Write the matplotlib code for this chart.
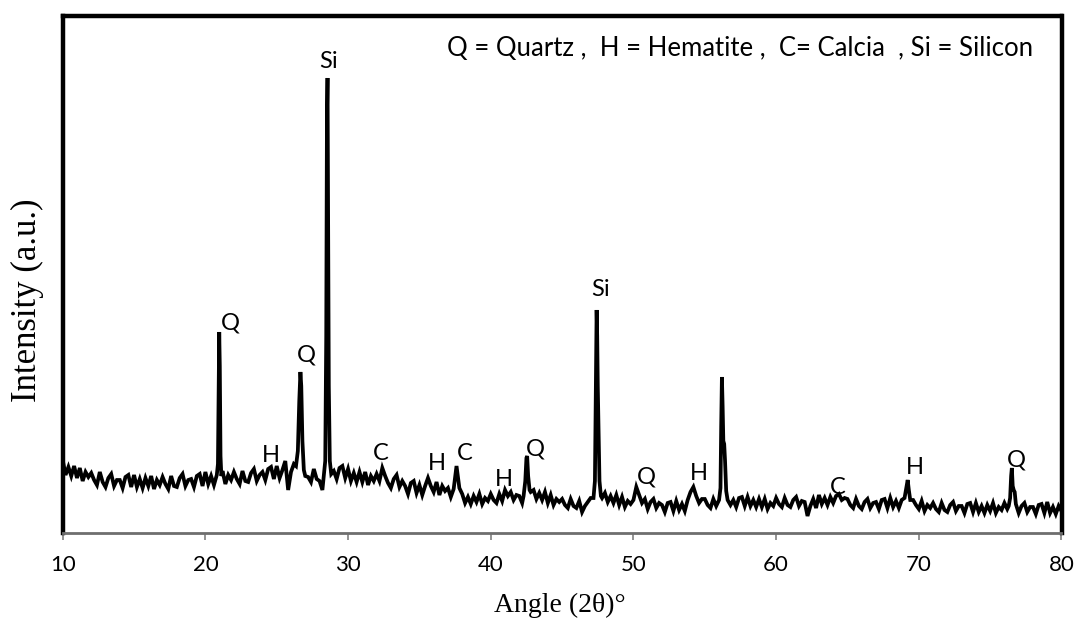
import numpy as np
import matplotlib
matplotlib.use("Agg")
import matplotlib.pyplot as plt

# ---- data -------------------------------------------------------------
scan_start = 10.0
scan_step = 0.2
# background scan (intensity, a.u.) read every 0.2 deg from 10 to 80
baseline = [
    76, 61, 69, 60, 70,  58, 68, 55, 64, 59,  63, 56, 51, 64, 54,  49, 58, 62, 50, 56,
    56, 48, 59, 61, 49,  61, 49, 57, 48, 58,  50, 60, 47, 56, 51,  59, 52, 47, 60, 50,
    49, 58, 62, 50, 56,  57, 49, 60, 62, 50,  64, 52, 60, 51, 61,  60, 65, 52, 61, 56,
    64, 57, 52, 65, 55,  54, 63, 67, 55, 61,  64, 56, 67, 69, 57,  70, 58, 66, 75, 46,
    64, 72, 70, 66, 62,  60, 59, 54, 67, 57,  55, 46, 60, 62, 60,  65, 57, 68, 70, 58,
    67, 55, 63, 54, 64,  54, 64, 51, 60, 55,  62, 55, 68, 60, 53,  48, 57, 61, 49, 55,
    50, 42, 53, 55, 43,  51, 41, 50, 58, 50,  44, 54, 41, 50, 45,  48, 39, 47, 70, 48,
    42, 33, 39, 32, 40,  34, 42, 32, 38, 35,  42, 36, 33, 42, 35,  46, 40, 44, 36, 41,
    40, 33, 42, 40, 44,  46, 37, 43, 36, 44,  33, 41, 31, 37, 34,  37, 31, 28, 37, 30,
    28, 35, 24, 30, 34,  38, 40, 40, 40, 38,  43, 34, 40, 33, 41,  31, 39, 29, 35, 32,
    36, 49, 41, 33, 37,  27, 34, 37, 28, 33,  31, 24, 33, 34, 25,  35, 26, 32, 25, 36,
    44, 49, 40, 33, 37,  37, 31, 28, 37, 30,  36, 40, 40, 36, 31,  36, 29, 38, 39, 30,
    39, 30, 36, 29, 37,  29, 37, 27, 33, 30,  38, 32, 29, 38, 31,  29, 36, 39, 30, 35,
    34, 20, 30, 37, 28,  41, 32, 38, 31, 39,  33, 40, 42, 36, 38,  37, 31, 28, 37, 30,
    27, 34, 37, 28, 33,  34, 27, 36, 37, 28,  38, 29, 35, 28, 36,  38, 50, 40, 36, 31,
    27, 35, 25, 31, 28,  33, 27, 24, 33, 26,  24, 31, 34, 25, 30,  30, 23, 32, 33, 24,
    33, 24, 30, 23, 31,  25, 33, 23, 29, 26,  33, 27, 40, 35, 30,  23, 30, 33, 24, 29,
    29, 22, 31, 32, 23,  34, 23, 29, 22, 30,  25,
]

# sharp reflections (angle, intensity)
q21_angle = [20.80, 20.88, 20.93, 20.97, 21.01, 21.06, 21.12]
q21_int = [61, 72, 140, 204, 170, 80, 60]
q27_angle = [26.35, 26.48, 26.58, 26.66, 26.72, 26.80, 26.90, 27.00]
q27_int = [70, 85, 135, 164, 150, 95, 66, 60]
si28_angle = [28.30, 28.40, 28.47, 28.52, 28.56, 28.60, 28.65, 28.72, 28.82]
si28_int = [60, 75, 200, 420, 458, 330, 150, 75, 62]
q42_angle = [42.30, 42.42, 42.50, 42.55, 42.62, 42.72]
q42_int = [40, 55, 78, 80, 60, 46]
si47_angle = [47.20, 47.30, 47.37, 47.42, 47.46, 47.50, 47.55, 47.62, 47.72]
si47_int = [38, 55, 150, 226, 200, 150, 110, 55, 40]
p56_angle = [56.00, 56.10, 56.15, 56.20, 56.25, 56.30, 56.36, 56.42, 56.50, 56.60]
p56_int = [36, 48, 110, 159, 130, 95, 92, 75, 45, 36]
h69_angle = [69.00, 69.12, 69.22, 69.30, 69.40]
h69_int = [38, 48, 56, 46, 36]
q76_angle = [76.30, 76.40, 76.47, 76.52, 76.58, 76.65, 76.72, 76.80]
q76_int = [30, 38, 60, 68, 50, 46, 44, 32]

# phase labels: text, angle, intensity
label_text = ["Q", "Q", "Si", "H", "C", "H", "C", "H", "Q", "Si", "Q", "H", "C", "H", "Q"]
label_angle = [21.73, 27.06, 28.60, 24.60, 32.30, 36.23, 38.20, 40.94, 43.10, 47.67,
               50.88, 54.60, 64.33, 69.73, 76.87]
label_int = [213, 181, 474, 80, 82, 72, 83, 57, 87, 247, 59, 62, 49, 69, 76]

x_ticks = [10, 20, 30, 40, 50, 60, 70, 80]
legend_text = "Q = Quartz ,  H = Hematite ,  C= Calcia  , Si = Silicon"

# ---- assemble pattern --------------------------------------------------
ang = np.round(scan_start + scan_step * np.arange(len(baseline)), 2)
inten = np.array(baseline, dtype=float)
peaks = [(q21_angle, q21_int), (q27_angle, q27_int), (si28_angle, si28_int),
         (q42_angle, q42_int), (si47_angle, si47_int), (p56_angle, p56_int),
         (h69_angle, h69_int), (q76_angle, q76_int)]
keep = np.ones(len(ang), dtype=bool)
for pa, pi in peaks:
    keep &= ~((ang >= pa[0]) & (ang <= pa[-1]))
all_a = np.concatenate([ang[keep]] + [np.array(p[0]) for p in peaks])
all_i = np.concatenate([inten[keep]] + [np.array(p[1], dtype=float) for p in peaks])
order = np.argsort(all_a)
all_a, all_i = all_a[order], all_i[order]

# ---- figure ------------------------------------------------------------
W, H = 1078, 628
fig = plt.figure(figsize=(W / 100, H / 100), dpi=100)
ax = fig.add_axes([62.7 / W, 1 - 533 / H, (1061.5 - 62.7) / W, (533 - 16) / H])

ax.plot(all_a, all_i, color="black", lw=2.7, solid_joinstyle="miter")
ax.set_xlim(10, 80)
ax.set_ylim(3, 520)

for side in ["left", "top", "right"]:
    ax.spines[side].set_linewidth(3.2)
    ax.spines[side].set_color("black")
ax.spines["bottom"].set_linewidth(2.0)
ax.spines["bottom"].set_color("#6e6e6e")

ax.set_yticks([])
ax.set_xticks(x_ticks)
ax.set_xticklabels([str(t) for t in x_ticks])
ax.tick_params(axis="x", direction="out", length=5, width=1.3, color="#8a8a8a",
               pad=11, labelsize=16)
for lab in ax.get_xticklabels():
    lab.set_fontfamily("Lato")

for t, a, i in zip(label_text, label_angle, label_int):
    ax.text(a, i, t, ha="center", va="center", fontsize=17, family="Lato")

fig.text(447 / W, 1 - 48 / H, legend_text, ha="left", va="center",
         fontsize=18.5, family="Lato")

fig.text(560 / W, 1 - 605 / H, "Angle (2θ)°", ha="center", va="center",
         fontsize=20, family="Liberation Serif")
fig.text(27 / W, 1 - 300 / H, "Intensity (a.u.)", ha="center", va="center",
         rotation=90, fontsize=25, family="Liberation Serif")

fig.savefig("out.png", dpi=100)
